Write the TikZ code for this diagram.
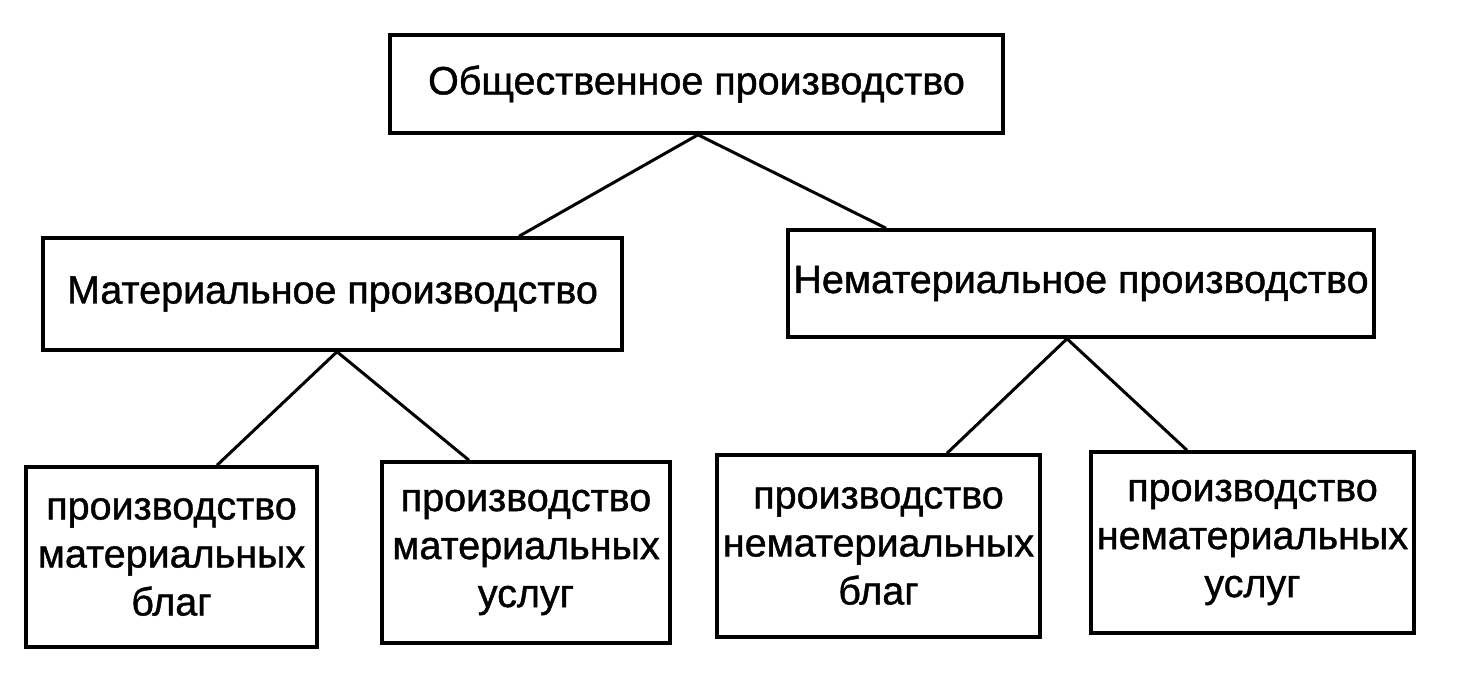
\documentclass[tikz,border=0pt]{standalone}
\usepackage{fontspec}
\newfontfamily\boxfont{Liberation Sans}[FakeBold=1.1]
\begin{document}
\begin{tikzpicture}[x=1pt,y=-1pt,
  box/.style={draw=black, line width=3.5pt, inner sep=0pt, align=center,
    font=\boxfont\fontsize{39.5}{48}\selectfont},
  link/.style={draw=black, line width=3pt}]
\useasboundingbox (0,0) rectangle (1469,686);
\node[box, minimum width=613pt, minimum height=98pt] (top) at (696.5,84) {Общественное производство};
\node[box, minimum width=579pt, minimum height=112pt] (ml) at (332.5,294) {Материальное производство};
\node[box, minimum width=586pt, minimum height=107pt] (mr) at (1081,283.5) {Нематериальное производство};
\node[box, minimum width=291pt, minimum height=180pt] (b1) at (171.5,557) {производство\\материальных\\благ};
\node[box, minimum width=288pt, minimum height=181pt] (b2) at (526,552.5) {производство\\материальных\\услуг};
\node[box, minimum width=323pt, minimum height=182pt] (b3) at (878.5,546) {производство\\нематериальных\\благ};
\node[box, minimum width=323pt, minimum height=181pt] (b4) at (1252.5,542.5) {производство\\нематериальных\\услуг};
\draw[link] ([xshift=1.5pt]top.south) -- ([xshift=186.5pt]ml.north);
\draw[link] ([xshift=1.5pt]top.south) -- ([xshift=-195pt]mr.north);
\draw[link] ([xshift=4.5pt]ml.south) -- ([xshift=45.5pt]b1.north);
\draw[link] ([xshift=4.5pt]ml.south) -- ([xshift=-57pt]b2.north);
\draw[link] ([xshift=-14pt]mr.south) -- ([xshift=68.5pt]b3.north);
\draw[link] ([xshift=-14pt]mr.south) -- ([xshift=-65.5pt]b4.north);
\end{tikzpicture}
\end{document}
